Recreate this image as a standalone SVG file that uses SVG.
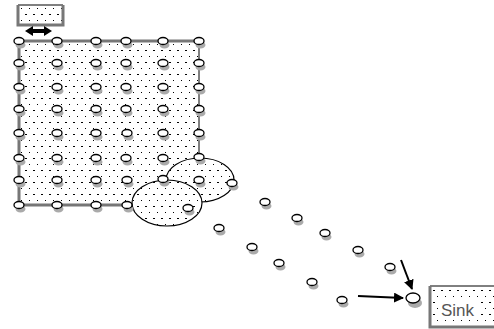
<svg xmlns="http://www.w3.org/2000/svg" width="494" height="329" viewBox="0 0 494 329">
<defs>
<pattern id="dots" width="8" height="12" patternUnits="userSpaceOnUse">
<rect x="1" y="2" width="2" height="1" fill="#000"/>
<rect x="5" y="8" width="1" height="1" fill="#000"/>
</pattern>
<marker id="ah" markerWidth="10" markerHeight="10" refX="9" refY="5" orient="auto" markerUnits="userSpaceOnUse">
<path d="M0,0 L10,5 L0,10 Z" fill="#000"/>
</marker>
<g id="nd">
<ellipse cx="1.5" cy="4" rx="5" ry="3.5" fill="#aaa"/>
<ellipse cx="0" cy="0" rx="5" ry="3.5" fill="#fff" stroke="#000" stroke-width="1.3"/>
</g>
</defs>
<style>
.dotfill{fill:url(#dots)}
.grey{stroke:#777;stroke-width:3;fill:none}
.thin{stroke:#000;stroke-width:1;fill:none}
.txt{font-family:"Liberation Sans",Arial,sans-serif;font-size:17px;fill:#555}
</style>
<rect width="494" height="329" fill="#fff"/>

<g id="legend">
<rect x="18" y="5" width="45" height="20" fill="#fff"/>
<rect x="18" y="5" width="45" height="20" class="dotfill"/>
<path d="M18,5 H63" class="thin"/>
<path d="M18,5 V25 H63 V5" class="grey" stroke-width="2"/>
<polygon points="25,31 33,26 33,29 44,29 44,26 52,31 44,36 44,33 33,33 33,36" fill="#000"/>
</g>

<g id="field">
<rect x="19" y="41" width="180" height="164" class="dotfill"/>
<path d="M19,205 V41 H199" class="grey"/>
<path d="M19,205 H135" class="grey"/>
<path d="M199,41 V158" class="thin"/>
</g>

<g id="clusters">
<ellipse cx="200" cy="180" rx="34" ry="22" fill="#fff" stroke="#000" stroke-width="1.2"/>
<ellipse cx="200" cy="180" rx="34" ry="22" class="dotfill"/>
<ellipse cx="167" cy="203" rx="35" ry="23" fill="#fff" stroke="#000" stroke-width="1.2"/>
<ellipse cx="167" cy="203" rx="35" ry="23" class="dotfill"/>
</g>

<g id="nodes">
<use href="#nd" x="19" y="41"/><use href="#nd" x="57" y="41"/><use href="#nd" x="96" y="41"/><use href="#nd" x="126" y="41"/><use href="#nd" x="163" y="41"/><use href="#nd" x="199" y="41"/>
<use href="#nd" x="19" y="63"/><use href="#nd" x="57" y="63"/><use href="#nd" x="96" y="63"/><use href="#nd" x="126" y="63"/><use href="#nd" x="163" y="63"/><use href="#nd" x="199" y="63"/>
<use href="#nd" x="19" y="87"/><use href="#nd" x="57" y="87"/><use href="#nd" x="96" y="87"/><use href="#nd" x="126" y="87"/><use href="#nd" x="163" y="87"/><use href="#nd" x="199" y="87"/>
<use href="#nd" x="19" y="109"/><use href="#nd" x="57" y="109"/><use href="#nd" x="96" y="109"/><use href="#nd" x="126" y="109"/><use href="#nd" x="163" y="109"/><use href="#nd" x="199" y="109"/>
<use href="#nd" x="19" y="133"/><use href="#nd" x="57" y="133"/><use href="#nd" x="96" y="133"/><use href="#nd" x="127" y="133"/><use href="#nd" x="163" y="133"/><use href="#nd" x="199" y="133"/>
<use href="#nd" x="19" y="158"/><use href="#nd" x="57" y="158"/><use href="#nd" x="96" y="158"/><use href="#nd" x="126" y="158"/><use href="#nd" x="163" y="158"/><use href="#nd" x="199" y="157"/>
<use href="#nd" x="19" y="180"/><use href="#nd" x="57" y="180"/><use href="#nd" x="96" y="180"/><use href="#nd" x="127" y="180"/><use href="#nd" x="163" y="179"/><use href="#nd" x="199" y="180"/>
<use href="#nd" x="19" y="205"/><use href="#nd" x="57" y="205"/><use href="#nd" x="96" y="205"/><use href="#nd" x="127" y="205"/>
<use href="#nd" x="232" y="183"/><use href="#nd" x="188" y="208"/>
<use href="#nd" x="265" y="202"/><use href="#nd" x="297" y="218"/><use href="#nd" x="325" y="233"/><use href="#nd" x="358" y="250"/><use href="#nd" x="390" y="267"/>
<use href="#nd" x="219" y="228"/><use href="#nd" x="252" y="247"/><use href="#nd" x="279" y="263"/><use href="#nd" x="312" y="282"/><use href="#nd" x="342" y="300"/>
</g>

<g id="sink-node">
<ellipse cx="415" cy="303" rx="7" ry="5" fill="#aaa"/>
<ellipse cx="413" cy="298" rx="7" ry="5" fill="#fff" stroke="#000" stroke-width="1.3"/>
</g>

<g id="sink">
<rect x="430" y="286" width="66" height="41" fill="#fff"/>
<rect x="430" y="286" width="66" height="41" class="dotfill"/>
<path d="M430,286 H494" class="thin"/>
<path d="M430,286 V327 H494" class="grey" stroke-width="2"/>
<rect x="440" y="300" width="38" height="19" fill="#fff"/>
<text x="441" y="316" class="txt">Sink</text>
</g>

<g id="connectors">
<path d="M358,296 L403,298" stroke="#000" stroke-width="2" marker-end="url(#ah)"/>
<path d="M401,260 L412,289" stroke="#000" stroke-width="2" marker-end="url(#ah)"/>
</g>
</svg>
